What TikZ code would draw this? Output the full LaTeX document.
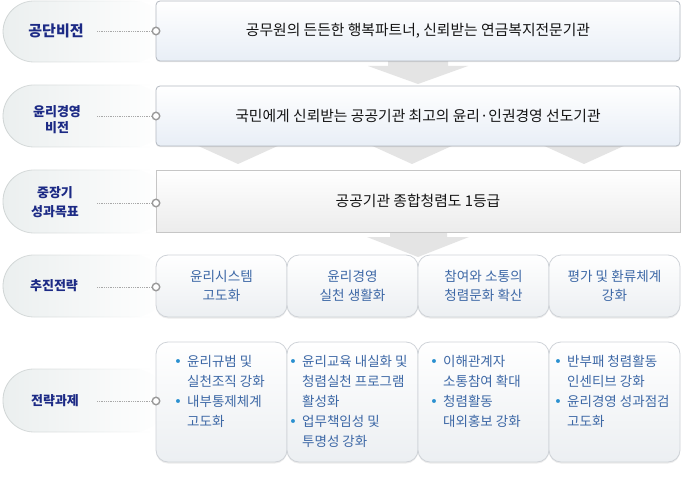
\documentclass[tikz,border=0pt]{standalone}
\usepackage{fontspec}
\setmainfont{Noto Sans CJK KR}
\newfontfamily\symfont{DejaVu Sans}
\usetikzlibrary{shadows,fadings}
\definecolor{pilltxt}{HTML}{1C2A85}
\definecolor{pillL}{HTML}{EBEFEF}
\definecolor{pillB}{HTML}{D0D5D5}
\definecolor{boxB}{HTML}{B3B9C1}
\definecolor{boxBot}{HTML}{E8EEF6}
\definecolor{goalB}{HTML}{C6C6C6}
\definecolor{goalBot}{HTML}{ECECEC}
\definecolor{stB}{HTML}{CFD3D8}
\definecolor{stBot}{HTML}{ECEFF2}
\definecolor{sttxt}{HTML}{3D68A6}
\definecolor{bulc}{HTML}{2A90D0}
\definecolor{maintxt}{HTML}{141414}
\definecolor{dotG}{HTML}{9A9A9A}
\definecolor{dotL}{HTML}{A8A8A8}
\definecolor{arrG}{HTML}{E4E4E4}
\newcommand\mypill[2]{%
  \shade[left color=pillL, right color=white, rounded corners=31pt] (165,#1) -- (3,#1) -- (3,#2) -- (165,#2) -- cycle;
  \draw[pillB, line width=0.8pt, rounded corners=31pt, path fading=east] (150,#1) -- (3,#1) -- (3,#2) -- (150,#2);
}
\newcommand\bul{\makebox[13pt][l]{\symfont\textcolor{bulc}{•}}}
\newcommand\nob{\hspace*{13pt}}
\tikzset{
  mainbox/.style={draw=boxB, line width=0.8pt, rounded corners=4pt, top color=white, bottom color=boxBot,
    minimum width=524pt, minimum height=60pt, font=\fontsize{14.8pt}{17pt}\selectfont, text=maintxt,
    drop shadow={opacity=0.18, shadow xshift=0pt, shadow yshift=-1.2pt}},
  goalbox/.style={mainbox, sharp corners, draw=goalB, bottom color=goalBot, minimum height=62pt},
  stratbox/.style={draw=stB, line width=0.8pt, rounded corners=12pt, top color=white, bottom color=stBot,
    minimum width=131pt, minimum height=62pt, align=center, font=\fontsize{13.6pt}{19pt}\selectfont, text=sttxt,
    drop shadow={opacity=0.15, shadow xshift=0pt, shadow yshift=-1.5pt}},
  taskbox/.style={stratbox, minimum height=120pt},
  tasktext/.style={anchor=north west, inner sep=0pt, align=left, font=\fontsize{13.5pt}{20pt}\selectfont, text=sttxt},
  lbl/.style={font=\bfseries\fontsize{13pt}{17pt}\selectfont, text=pilltxt, align=center},
  dotc/.style={circle, draw=dotG, line width=1.4pt, fill=white, minimum size=7.5pt, inner sep=0pt},
  dotline/.style={draw=dotL, line width=0.6pt, dash pattern=on 0.6pt off 1.2pt},
  arrowsh/.style={fill=arrG},
}
\begin{document}
\begin{tikzpicture}[x=1pt,y=-1pt]
\useasboundingbox[fill=white] (0,0) rectangle (687,486);
% pills
\mypill{1}{62}
\mypill{85}{147}
\mypill{170}{233}
\mypill{255}{317}
\mypill{369}{432}
% arrows
\fill[arrowsh] (388,58) -- (448,58) -- (448,66) -- (468,66) -- (418,84) -- (368,66) -- (388,66) -- cycle;
\fill[arrowsh] (194,144) -- (282,144) -- (238,164) -- cycle;
\fill[arrowsh] (368,144) -- (456,144) -- (412,164) -- cycle;
\fill[arrowsh] (540,144) -- (628,144) -- (584,164) -- cycle;
\fill[arrowsh] (390,229) -- (447,229) -- (447,237) -- (469,237) -- (418,257) -- (367,237) -- (390,237) -- cycle;
% main boxes
\node[mainbox] (v1) at (418,31) {공무원의 든든한 행복파트너, 신뢰받는 연금복지전문기관};
\node[mainbox] (v2) at (418,116) {국민에게 신뢰받는 공공기관 최고의 윤리·인권경영 선도기관};
\node[goalbox] (v3) at (418,201) {공공기관 종합청렴도 1등급};
% strategy boxes
\node[stratbox] (s1) at (221.5,286) {윤리시스템\\고도화};
\node[stratbox] (s2) at (352.5,286) {윤리경영\\실천 생활화};
\node[stratbox] (s3) at (483.5,286) {참여와 소통의\\청렴문화 확산};
\node[stratbox] (s4) at (614.5,286) {평가 및 환류체계\\강화};
% task boxes
\node[taskbox] (t1) at (221.5,402) {};
\node[taskbox] (t2) at (352.5,402) {};
\node[taskbox] (t3) at (483.5,402) {};
\node[taskbox] (t4) at (614.5,402) {};
\node[tasktext] (tt1) at (174,355) {\bul 윤리규범 및\\\nob 실천조직 강화\\\bul 내부통제체계\\\nob 고도화};
\node[tasktext] (tt2) at (289,355) {\bul 윤리교육 내실화 및\\\nob 청렴실천 프로그램\\\nob 활성화\\\bul 업무책임성 및\\\nob 투명성 강화};
\node[tasktext] (tt3) at (430,355) {\bul 이해관계자\\\nob 소통참여 확대\\\bul 청렴활동\\\nob 대외홍보 강화};
\node[tasktext] (tt4) at (554,355) {\bul 반부패 청렴활동\\\nob 인센티브 강화\\\bul 윤리경영 성과점검\\\nob 고도화};
% labels
\node[lbl, font=\bfseries\fontsize{15pt}{17pt}\selectfont] (l1) at (56,31) {공단비전};
\node[lbl, font=\bfseries\fontsize{13pt}{16pt}\selectfont] (l2) at (57,120) {윤리경영\\비전};
\node[lbl, font=\bfseries\fontsize{13pt}{19pt}\selectfont] (l3) at (55,202) {중장기\\성과목표};
\node[lbl] (l4) at (54,286) {추진전략};
\node[lbl] (l5) at (55,401) {전략과제};
% connectors
\coordinate (d1) at (97,31);
\coordinate (d2) at (97,116);
\coordinate (d3) at (97,203);
\coordinate (d4) at (97,287);
\coordinate (d5) at (97,401);
\node[dotc] (c1) at (156,31) {};
\node[dotc] (c2) at (156,116) {};
\node[dotc] (c3) at (156,203) {};
\node[dotc] (c4) at (156,287) {};
\node[dotc] (c5) at (156,401) {};
\draw[dotline] (d1) -- (c1);
\draw[dotline] (d2) -- (c2);
\draw[dotline] (d3) -- (c3);
\draw[dotline] (d4) -- (c4);
\draw[dotline] (d5) -- (c5);
\end{tikzpicture}
\end{document}
